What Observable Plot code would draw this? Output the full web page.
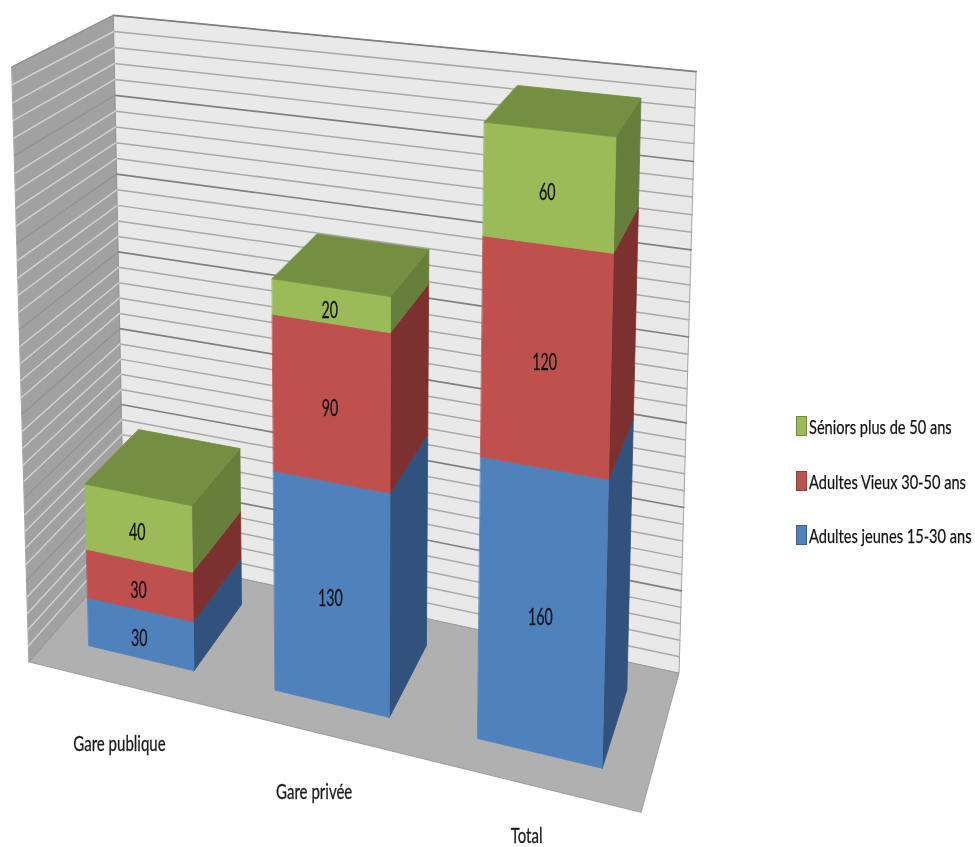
<!DOCTYPE html>
<html lang="fr"><head><meta charset="utf-8">
<script src="https://cdn.jsdelivr.net/npm/d3@7"></script>
<script src="https://cdn.jsdelivr.net/npm/@observablehq/plot@0.6"></script>
<style>
html,body{margin:0;background:#fff}
#chart{position:relative;width:975px;height:847px;overflow:hidden}
#chart svg{display:block;filter:blur(.65px)}
.legend{position:absolute;left:796px;top:416px;font-family:Lato,sans-serif;font-size:20px;color:#111;filter:blur(.6px);-webkit-text-stroke:.25px #111}
.legend div{position:absolute;left:0;height:20px;white-space:nowrap;line-height:20px}
.legend i{position:absolute;left:0;top:0;width:11px;height:20px;box-sizing:border-box;border:1px solid rgba(0,0,0,.25)}
.legend span{position:absolute;left:13px;top:0;transform:scaleX(.73);transform-origin:0 50%}
</style>
</head><body><div id="chart"></div>
<script>
// Data
const categories = ["Gare publique", "Gare privée", "Total"];
const seriesNames = ["Adultes jeunes 15-30 ans", "Adultes Vieux 30-50 ans", "Séniors plus de 50 ans"];
const adultesJeunes = [30, 130, 160];
const adultesVieux = [30, 90, 120];
const seniors = [40, 20, 60];
const seriesValues = [adultesJeunes, adultesVieux, seniors];
const frontColors = ["#4f81bd", "#c0504d", "#9bbb59"];
const sideColors = ["#30527c", "#7c312f", "#66803b"];
const topColor = "#748f42";
const axisMax = 350, minorStep = 10, majorStep = 50;
const categoryLabelDrop = [60, 60, 52];

// Fitted perspective camera: (category position, value, depth) -> page pixel
const P = [177.906179, -5.06765766, 109.012614, 28.5750465,
           17.0112506, -170.982272, -47.2107742, 661.507169,
           -0.0407693143, -0.0142223802, 0.111631355];
const gap = 0.212970274, zFront = 0.213671323, zBack = 0.787690800;
function project(X, value, Z) {
  const V = value / 100, w = P[8]*X + P[9]*V + P[10]*Z + 1;
  return [(P[0]*X + P[1]*V + P[2]*Z + P[3]) / w, (P[4]*X + P[5]*V + P[6]*Z + P[7]) / w];
}

// Polygons and lines, all built by projecting the data
const polys = [];
function face(id, fill, corners) {
  corners.forEach(c => { const [x, y] = project(...c); polys.push({id, fill, x, y}); });
}
face("floor", "#b0b0b0", [[0,0,1],[3,0,1],[3,0,0],[0,0,0]]);
face("back", "#e9e9e9", [[0,0,1],[3,0,1],[3,axisMax,1],[0,axisMax,1]]);
face("left", "#a1a1a1", [[0,0,0],[0,0,1],[0,axisMax,1],[0,axisMax,0]]);

const grid = [];
d3.range(minorStep, axisMax + 1, minorStep).forEach(v => {
  const major = v % majorStep === 0;
  [[[0,v,1],[3,v,1],"b"],[[0,v,1],[0,v,0],"l"]].forEach(([a,b,w]) => {
    [a,b].forEach(c => { const [x,y] = project(...c); grid.push({id:w+v, wall:w, major, x, y}); });
  });
});

const labels = [];
categories.forEach((name, i) => {
  const X0 = i + gap, X1 = i + 1 - gap;
  let base = 0;
  seriesValues.forEach((vals, s) => {
    const v = vals[i], t = base + v, k = `${i}-${s}`;
    face("side"+k, sideColors[s], [[X1,base,zFront],[X1,base,zBack],[X1,t,zBack],[X1,t,zFront]]);
    face("front"+k, frontColors[s], [[X0,base,zFront],[X1,base,zFront],[X1,t,zFront],[X0,t,zFront]]);
    const [x, y] = project(i + .5, base + v/2, zFront);
    labels.push({x, y, text: String(v)});
    base = t;
  });
  face("top"+i, topColor, [[X0,base,zFront],[X1,base,zFront],[X1,base,zBack],[X0,base,zBack]]);
});
const catLabels = categories.map((name, i) => {
  const [x, y] = project(i + .5, 0, 0);
  return {x, y: y + categoryLabelDrop[i], name};
});

const isBackdrop = d => ["floor","back","left"].includes(d.id);
const font = 'Lato,sans-serif';
const chart = Plot.plot({
  width: 975, height: 847, margin: 0,
  x: {axis: null, domain: [0, 975], range: [0, 975]},
  y: {axis: null, domain: [0, 847], range: [0, 847]},
  color: {type: "identity"},
  marks: [
    Plot.line(polys.filter(isBackdrop), {x:"x", y:"y", z:"id", fill:"fill", stroke:"#8f8f8f", strokeWidth:.8, curve:"linear-closed"}),
    Plot.line(grid.filter(d => d.wall==="b" && !d.major), {x:"x", y:"y", z:"id", stroke:"#a9a9a9", strokeWidth:1.5}),
    Plot.line(grid.filter(d => d.wall==="b" && d.major), {x:"x", y:"y", z:"id", stroke:"#7f7f7f", strokeWidth:1.7}),
    Plot.line(grid.filter(d => d.wall==="l" && !d.major), {x:"x", y:"y", z:"id", stroke:"#d0d0d0", strokeWidth:1.5}),
    Plot.line(grid.filter(d => d.wall==="l" && d.major), {x:"x", y:"y", z:"id", stroke:"#929292", strokeWidth:1.3}),
    Plot.line(polys.filter(d => !isBackdrop(d)), {x:"x", y:"y", z:"id", fill:"fill", stroke:"fill", strokeWidth:.8, curve:"linear-closed"}),
    Plot.text(labels, {x:"x", y:"y", dx:-1, dy:5, text:"text", fontFamily:font, fontSize:23, fill:"#111", stroke:"#111", strokeWidth:.3}),
    Plot.text(catLabels, {x:"x", y:"y", dx:-1, text:"name", fontFamily:font, fontSize:21, fill:"#1a1a1a", stroke:"#1a1a1a", strokeWidth:.3})
  ]
});
const host = document.getElementById("chart");
host.append(chart);

// The reference's lettering is tall and condensed: squeeze each text horizontally.
const squeeze = [.62, .715];
chart.querySelectorAll('g[aria-label="text"]').forEach((g, k) => {
  g.querySelectorAll("text").forEach(t => {
    t.setAttribute("textLength", (t.getComputedTextLength() * squeeze[k]).toFixed(1));
    t.setAttribute("lengthAdjust", "spacingAndGlyphs");
  });
});

// Legend
const legend = document.createElement("div");
legend.className = "legend";
const legendTops = [109, 55, 0];
seriesNames.forEach((n, s) => {
  const row = document.createElement("div");
  row.style.top = legendTops[s] + "px";
  const sw = document.createElement("i"); sw.style.background = frontColors[s];
  const tx = document.createElement("span"); tx.textContent = n;
  row.append(sw, tx); legend.append(row);
});
host.append(legend);
</script></body></html>
